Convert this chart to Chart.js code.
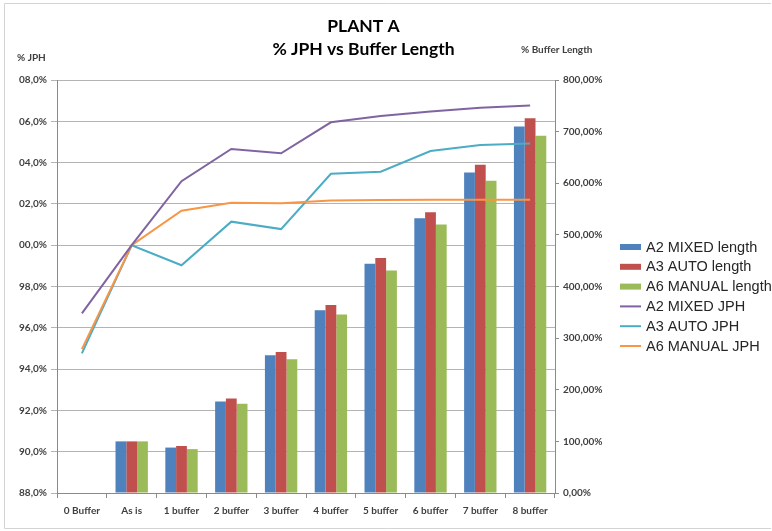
<!DOCTYPE html>
<html>
<head>
<meta charset="utf-8">
<script src="https://cdn.jsdelivr.net/npm/chart.js@4/dist/chart.umd.min.js"></script>
<style>
  html, body { margin: 0; padding: 0; background: #ffffff; }
  #wrap { width: 772px; height: 531px; position: relative; }
</style>
</head>
<body>
<div id="wrap"><canvas id="chart" width="772" height="531"></canvas></div>
<script>
// Categories along the x axis
const categories = ['0 Buffer', 'As is', '1 buffer', '2 buffer', '3 buffer', '4 buffer', '5 buffer', '6 buffer', '7 buffer', '8 buffer'];

// Buffer length (% of "As is"), right axis
const a2MixedLength  = [0, 100, 88, 177, 267, 354, 444, 532, 621, 710];
const a3AutoLength   = [0, 100, 91, 183, 273, 364, 455, 544, 636, 726];
const a6ManualLength = [0, 100, 85, 173, 259, 346, 431, 520, 605, 692];

// JPH (% of "As is"), left axis
const a2MixedJph  = [96.7, 100.0, 103.1, 104.66, 104.45, 105.95, 106.26, 106.47, 106.66, 106.76];
const a3AutoJph   = [94.76, 100.0, 99.03, 101.14, 100.78, 103.46, 103.56, 104.56, 104.85, 104.93];
const a6ManualJph = [94.97, 100.0, 101.67, 102.06, 102.03, 102.16, 102.19, 102.2, 102.2, 102.2];

// Tick labels as printed on the two value axes
const jphTickValues = [88, 90, 92, 94, 96, 98, 100, 102, 104, 106, 108];
const jphTickLabels = ['88,0%', '90,0%', '92,0%', '94,0%', '96,0%', '98,0%', '00,0%', '02,0%', '04,0%', '06,0%', '08,0%'];
const lengthTickValues = [0, 100, 200, 300, 400, 500, 600, 700, 800];
const lengthTickLabels = ['0,00%', '100,00%', '200,00%', '300,00%', '400,00%', '500,00%', '600,00%', '700,00%', '800,00%'];

const FONT = "Lato, 'Liberation Sans', Arial, sans-serif";
const LEGEND_FONT = "'Liberation Sans', Arial, sans-serif";
const GRID = '#b4b4b4';
const AXIS = '#8a8a8a';
const TICK_TEXT = '#3f3f3f';

// Frame, titles, axis captions and the legend
const decorations = {
  id: 'decorations',
  beforeDraw(chart) {
    const ctx = chart.ctx;
    ctx.save();
    ctx.fillStyle = '#ffffff';
    ctx.fillRect(0, 0, chart.width, chart.height);
    ctx.strokeStyle = '#d4d4d4';
    ctx.lineWidth = 1;
    ctx.beginPath();
    ctx.moveTo(771, 3.5);
    ctx.lineTo(4.5, 3.5);
    ctx.lineTo(4.5, 528.5);
    ctx.lineTo(771, 528.5);
    ctx.stroke();
    ctx.restore();
  },
  afterDraw(chart) {
    const ctx = chart.ctx;
    ctx.save();
    ctx.fillStyle = '#000000';
    ctx.textAlign = 'center';
    ctx.textBaseline = 'middle';
    ctx.font = 'bold 17.5px ' + FONT;
    ctx.fillText('PLANT A', 363.5, 26);
    ctx.fillText('% JPH vs Buffer Length', 363.5, 49);

    ctx.fillStyle = TICK_TEXT;
    ctx.textAlign = 'left';
    ctx.font = 'bold 10px ' + FONT;
    ctx.fillText('% JPH', 17, 58);
    ctx.fillText('% Buffer Length', 521, 50);

    // Legend built from the datasets
    ctx.font = '14.5px ' + LEGEND_FONT;
    ctx.textBaseline = 'middle';
    chart.data.datasets.forEach((ds, i) => {
      const y = 247 + i * 19.8;
      if (ds.type === 'line') {
        ctx.strokeStyle = ds.borderColor;
        ctx.lineWidth = 2;
        ctx.beginPath();
        ctx.moveTo(620, y);
        ctx.lineTo(641, y);
        ctx.stroke();
      } else {
        ctx.fillStyle = ds.backgroundColor;
        ctx.fillRect(620, y - 3, 21, 6);
      }
      ctx.fillStyle = '#262626';
      ctx.fillText(ds.label, 646, y + 0.5);
    });
    ctx.restore();
  }
};

new Chart(document.getElementById('chart'), {
  type: 'bar',
  data: {
    labels: categories,
    datasets: [
      { label: 'A2 MIXED length', data: a2MixedLength, backgroundColor: '#4F81BD', yAxisID: 'y1', order: 2 },
      { label: 'A3 AUTO length', data: a3AutoLength, backgroundColor: '#C0504D', yAxisID: 'y1', order: 2 },
      { label: 'A6 MANUAL length', data: a6ManualLength, backgroundColor: '#9BBB59', yAxisID: 'y1', order: 2 },
      { type: 'line', label: 'A2 MIXED JPH', data: a2MixedJph, borderColor: '#8064A2', backgroundColor: '#8064A2', borderWidth: 2, pointRadius: 0, tension: 0, yAxisID: 'y', order: 0 },
      { type: 'line', label: 'A3 AUTO JPH', data: a3AutoJph, borderColor: '#4BACC6', backgroundColor: '#4BACC6', borderWidth: 2, pointRadius: 0, tension: 0, yAxisID: 'y', order: 1 },
      { type: 'line', label: 'A6 MANUAL JPH', data: a6ManualJph, borderColor: '#F79646', backgroundColor: '#F79646', borderWidth: 2, pointRadius: 0, tension: 0, yAxisID: 'y', order: 0.5 }
    ]
  },
  options: {
    responsive: false,
    animation: false,
    devicePixelRatio: 1,
    layout: { padding: { top: 80, left: 0, right: 0, bottom: 0 } },
    datasets: {
      bar: { barPercentage: 1.0, categoryPercentage: 0.65, borderWidth: 0 }
    },
    plugins: {
      legend: { display: false },
      title: { display: false },
      tooltip: { enabled: false }
    },
    scales: {
      x: {
        offset: true,
        grid: { display: true, drawOnChartArea: false, offset: true, color: AXIS, tickLength: 5 },
        border: { display: true, color: AXIS },
        ticks: { color: TICK_TEXT, font: { family: FONT, size: 10, weight: 'bold' }, padding: 7, maxRotation: 0, autoSkip: false },
        afterFit(scale) { scale.height = 38; }
      },
      y: {
        position: 'left',
        min: 88,
        max: 108,
        afterBuildTicks(scale) { scale.ticks = jphTickValues.map(v => ({ value: v })); },
        ticks: {
          color: TICK_TEXT,
          font: { family: FONT, size: 10, weight: 'bold' },
          padding: 4,
          callback(value) { return jphTickLabels[jphTickValues.indexOf(value)]; }
        },
        grid: { color: GRID, tickLength: 6, lineWidth: 1 },
        border: { display: true, color: AXIS },
        afterFit(scale) { scale.width = 57; }
      },
      y1: {
        position: 'right',
        min: 0,
        max: 800,
        afterBuildTicks(scale) { scale.ticks = lengthTickValues.map(v => ({ value: v })); },
        ticks: {
          color: TICK_TEXT,
          font: { family: FONT, size: 10, weight: 'bold' },
          padding: 4,
          callback(value) { return lengthTickLabels[lengthTickValues.indexOf(value)]; }
        },
        grid: { drawOnChartArea: false, color: AXIS, tickLength: 4 },
        border: { display: true, color: AXIS },
        afterFit(scale) { scale.width = 217; }
      }
    }
  },
  plugins: [decorations]
});
</script>
</body>
</html>
